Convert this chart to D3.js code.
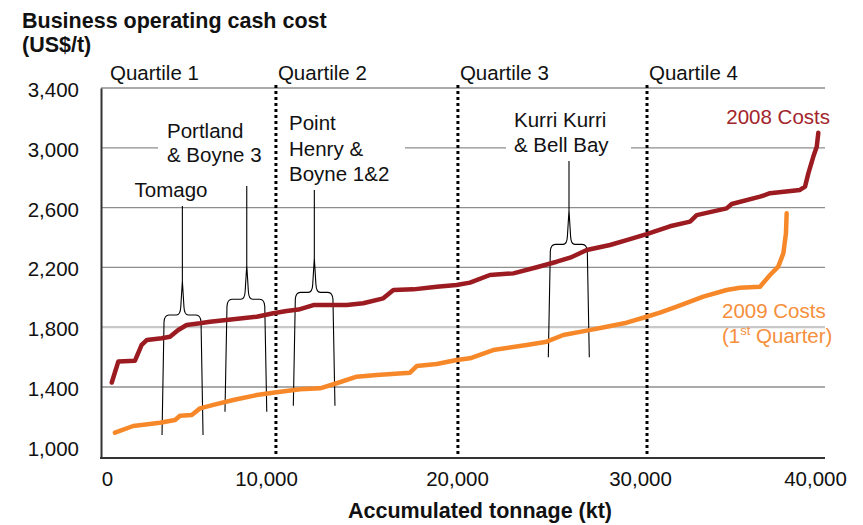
<!DOCTYPE html>
<html>
<head>
<meta charset="utf-8">
<script src="https://cdn.jsdelivr.net/npm/d3@7"></script>
<style>
  body { margin: 0; background: #fff; }
  svg { display: block; font-family: "Liberation Sans", Arial, Helvetica, sans-serif; }
</style>
</head>
<body>
<svg width="863" height="525"></svg>
<script>
// cost curves, accumulated tonnage (kt) vs operating cash cost (US$/t)
const xTicks = [0, 10000, 20000, 30000, 40000];
const yTicks = [1000, 1400, 1800, 2200, 2600, 3000, 3400];

const quartileNames = ["Quartile 1", "Quartile 2", "Quartile 3", "Quartile 4"];
const quartileStarts = [0, 10520, 20050, 30400];

const tonnage2008 = [300, 710, 1760, 2180, 2500, 3440, 3960, 4480, 5010, 5850, 6480, 7940, 9420, 10380, 11080, 11700, 12480, 14230, 15090, 16140, 16670, 17710, 18940, 19980, 20710, 21800, 23080, 24360, 25450, 26180, 27090, 28360, 29270, 30380, 31710, 32860, 33240, 34950, 35240, 36860, 37430, 39140, 39430, 39620, 39900, 40100, 40190];
const cost2008 = [1430, 1570, 1576, 1681, 1714, 1726, 1736, 1781, 1815, 1826, 1837, 1853, 1870, 1893, 1908, 1918, 1948, 1948, 1960, 1993, 2049, 2053, 2071, 2082, 2098, 2149, 2160, 2201, 2238, 2265, 2316, 2350, 2383, 2423, 2475, 2506, 2550, 2595, 2624, 2673, 2696, 2718, 2740, 2829, 2940, 3007, 3100];

const tonnage2009 = [500, 1650, 3330, 4280, 4590, 5330, 5850, 6690, 7940, 9420, 10560, 11780, 12830, 13700, 14750, 15800, 17540, 17890, 18940, 19980, 20710, 21980, 23810, 24900, 25810, 27090, 28180, 29270, 30380, 31140, 32100, 33620, 34950, 35710, 36860, 37430, 37900, 38190, 38340, 38380];
const cost2009 = [1094, 1139, 1161, 1179, 1208, 1213, 1257, 1280, 1313, 1346, 1365, 1385, 1391, 1425, 1469, 1480, 1496, 1540, 1554, 1581, 1592, 1647, 1681, 1703, 1748, 1777, 1803, 1830, 1870, 1897, 1937, 2004, 2049, 2064, 2071, 2149, 2205, 2294, 2428, 2562];

// smelter brackets: tonnage span, and cost levels of stem top / bar / leg ends
const smelterLabels = [["Tomago"], ["Portland", "& Boyne 3"], ["Point", "Henry &", "Boyne 1&2"], ["Kurri Kurri", "& Bell Bay"]];
const smelterLeft = [3460, 7420, 11430, 24990];
const smelterRight = [6040, 10040, 13610, 27230];
const smelterMid = [4740, 8790, 12530, 26120];
const smelterTop = [2611, 2744, 2718, 2912];
const smelterBar = [1882, 1987, 2033, 2354];
const smelterFoot = [1079, 1235, 1275, 1599];

const red = "#9b1b21", orange = "#f7882a";
const plotL = 101, plotR = 825;

const svg = d3.select("svg");

const x = d3.scaleLinear().domain(xTicks).range([107, 266, 457, 640, 815]);
const y = d3.scaleLinear().domain([925, 3400]).range([458, 88]);

// title
const title = svg.append("text")
    .attr("x", 22).attr("y", 28)
    .attr("font-size", "21.5px").attr("font-weight", "bold").attr("fill", "#111");
title.append("tspan").attr("x", 22).attr("y", 28).text("Business operating cash cost");
title.append("tspan").attr("x", 22).attr("y", 52).text("(US$/t)");

// gridlines
svg.append("g").selectAll("line")
    .data(yTicks.filter(d => d > 1000))
    .enter().append("line")
    .attr("x1", plotL).attr("x2", plotR)
    .attr("y1", d => y(d)).attr("y2", d => y(d))
    .attr("stroke", d => d == 1800 ? "#c8c8c8" : "#8e8e8e")
    .attr("stroke-width", d => d == 1800 ? 2.2 : 1.3);

// white patches behind the labels that sit on the grid
const patches = [[158, 120, 127, 48], [280, 108, 125, 84], [506, 106, 125, 52]];
svg.append("g").selectAll("rect").data(patches).enter().append("rect")
    .attr("x", d => d[0]).attr("y", d => d[1])
    .attr("width", d => d[2]).attr("height", d => d[3])
    .attr("fill", "#fff");

// quartile dividers
svg.append("g").selectAll("line")
    .data(quartileStarts.slice(1))
    .enter().append("line")
    .attr("x1", d => x(d)).attr("x2", d => x(d))
    .attr("y1", 85).attr("y2", 458)
    .attr("stroke", "#000").attr("stroke-width", 3)
    .attr("stroke-dasharray", "3,3");

svg.append("g").selectAll("text")
    .data(quartileNames)
    .enter().append("text")
    .attr("x", (d, i) => x(quartileStarts[i]) + (i == 0 ? 3 : 2))
    .attr("y", 80)
    .attr("font-size", "20.5px").attr("fill", "#111")
    .text(d => d);

// axes
const yAxis = svg.append("g")
    .attr("transform", `translate(${plotL},0)`)
    .call(d3.axisLeft(y).tickValues(yTicks).tickSize(0).tickSizeOuter(0).tickPadding(22).tickFormat(d3.format(",")));
yAxis.select(".domain").attr("stroke", "#333").attr("stroke-width", 2);
yAxis.selectAll("text").attr("font-size", "20.5px").attr("fill", "#111")
    .attr("font-family", "Liberation Sans, Arial, sans-serif")
    .attr("y", 2);

const xAxis = svg.append("g")
    .attr("transform", "translate(0,458)")
    .call(d3.axisBottom(x).tickValues(xTicks).tickSize(0).tickPadding(13).tickFormat(d3.format(",")));
xAxis.select(".domain").remove();
xAxis.selectAll("text").attr("font-size", "20.5px").attr("fill", "#111")
    .attr("font-family", "Liberation Sans, Arial, sans-serif");
svg.append("line")
    .attr("x1", plotL - 1).attr("x2", plotR)
    .attr("y1", 458).attr("y2", 458)
    .attr("stroke", "#333").attr("stroke-width", 2);

svg.append("text")
    .attr("x", 480).attr("y", 518)
    .attr("text-anchor", "middle")
    .attr("font-size", "21.5px").attr("font-weight", "bold").attr("fill", "#111")
    .text("Accumulated tonnage (kt)");

// brackets
const bracket = i => {
    const l = x(smelterLeft[i]), r = x(smelterRight[i]), m = x(smelterMid[i]);
    const t = y(smelterTop[i]), b = y(smelterBar[i]), f = y(smelterFoot[i]);
    const side = (xe, s) =>
        `M${xe},${f} L${xe + s * 2},${b + 7} Q${xe + s * 2.5},${b} ${xe + s * 7},${b} ` +
        `L${m - s * 6},${b} Q${m - s * 2},${b} ${m - s * 1.6},${b - 8} L${m},${b - 34}`;
    return side(l, 1) + " " + side(r, -1) + ` M${m},${b - 34} L${m},${t}`;
};
svg.append("g").selectAll("path")
    .data(smelterLabels)
    .enter().append("path")
    .attr("d", (d, i) => bracket(i))
    .attr("fill", "none").attr("stroke", "#000").attr("stroke-width", 1.1);

// cost curves
const line = d3.line().x(d => x(d[0])).y(d => y(d[1]));
svg.append("path")
    .attr("d", line(d3.zip(tonnage2009, cost2009)))
    .attr("fill", "none").attr("stroke", orange).attr("stroke-width", 4.5)
    .attr("stroke-linejoin", "round").attr("stroke-linecap", "round");
svg.append("path")
    .attr("d", line(d3.zip(tonnage2008, cost2008)))
    .attr("fill", "none").attr("stroke", red).attr("stroke-width", 4.5)
    .attr("stroke-linejoin", "round").attr("stroke-linecap", "round");

// smelter labels
const labelPos = [[171, 197, "middle"], [167, 138, "start"], [289, 130, "start"], [514, 127, "start"]];
const lineGap = [24, 24, 25.5, 25];
smelterLabels.forEach((lines, i) => {
    const t = svg.append("text")
        .attr("font-size", "20.5px").attr("fill", "#111")
        .attr("text-anchor", labelPos[i][2]);
    lines.forEach((s, j) => {
        t.append("tspan")
            .attr("x", labelPos[i][0])
            .attr("y", labelPos[i][1] + j * lineGap[i])
            .text(s);
    });
});

// series labels
svg.append("text")
    .attr("x", 830).attr("y", 124)
    .attr("text-anchor", "end")
    .attr("font-size", "20.5px").attr("fill", "#a3242b")
    .text("2008 Costs");

const lab09 = svg.append("text")
    .attr("font-size", "20.5px").attr("fill", "#f68f3c");
lab09.append("tspan").attr("x", 722).attr("y", 318).text("2009 Costs");
const l2 = lab09.append("tspan").attr("x", 722).attr("y", 343);
l2.append("tspan").text("(1");
l2.append("tspan").attr("font-size", "13px").attr("dy", -8).text("st");
l2.append("tspan").attr("dy", 8).text(" Quarter)");
</script>
</body>
</html>
